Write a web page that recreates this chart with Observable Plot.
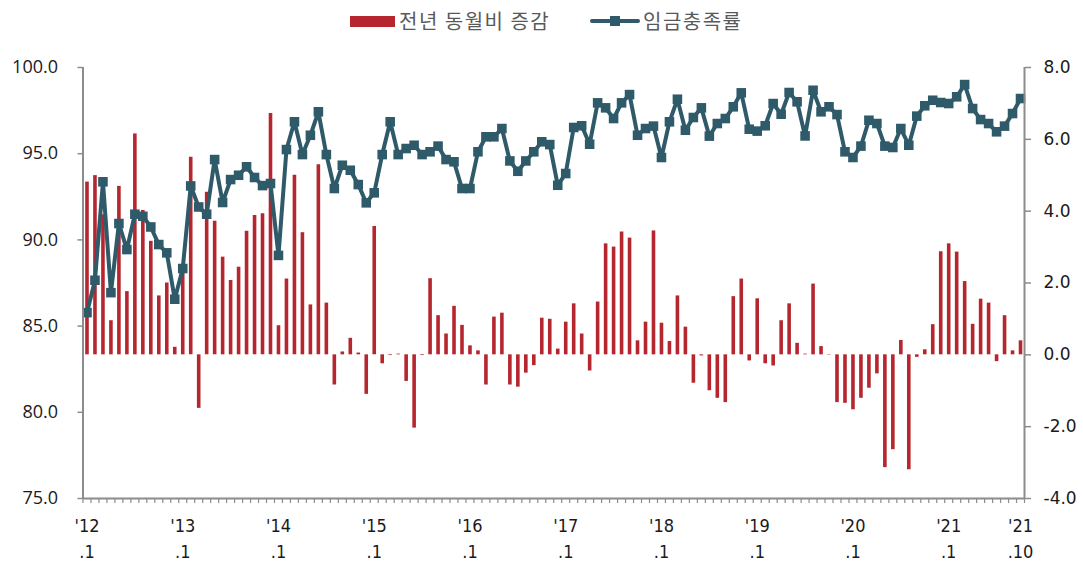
<!DOCTYPE html>
<html>
<head>
<meta charset="utf-8">
<script src="https://cdn.jsdelivr.net/npm/d3@7"></script>
<script src="https://cdn.jsdelivr.net/npm/@observablehq/plot@0.6"></script>
<style>
  html, body { margin: 0; padding: 0; background: #fff; }
  #wrap { width: 1083px; height: 562px; position: relative; overflow: hidden; }
  #legend { position: relative; width: 1083px; height: 40px; font-family: "Noto Sans CJK KR", "Noto Sans", sans-serif; font-size: 20px; color: #595959; letter-spacing: 1.5px; }
  #legend .sw { position: absolute; }
  #legend .lbl { position: absolute; top: 7px; line-height: 28px; white-space: nowrap; }
  #chart svg { display: block; }
</style>
</head>
<body>
<div id="wrap">
  <div id="legend">
    <div class="sw" style="left:350px; top:16px; width:45px; height:11px; background:#B5262E;"></div>
    <div class="lbl" style="left:399px;">전년 동월비 증감</div>
    <div class="sw" style="left:590px; top:19px; width:50px; height:4px; border-radius:2px; background:#2E5A6A;"></div>
    <div class="sw" style="left:610px; top:16px; width:10px; height:10px; background:#2E5A6A;"></div>
    <div class="lbl" style="left:643px;">임금충족률</div>
  </div>
  <div id="chart"></div>
</div>
<script>
// Monthly series, 2012.1 – 2021.10
const startYear = 2012;
const nMonths = 118;

// 전년 동월비 증감 (right axis, %p)
const yoyChange = [
  4.81, 4.99, 3.90, 0.95, 4.69, 1.76, 6.15, 4.02, 3.16, 1.64, 2.00, 0.21,
  2.40, 5.50, -1.49, 4.53, 3.72, 2.72, 2.07, 2.44, 3.44, 3.88, 3.93, 6.72,
  0.81, 2.11, 5.00, 3.40, 1.39, 5.29, 1.44, -0.84, 0.08, 0.46, 0.05, -1.10,
  3.57, -0.25, -0.02, 0.02, -0.74, -2.04, -0.02, 2.12, 1.09, 0.58, 1.35, 0.82,
  0.25, 0.11, -0.84, 1.05, 1.16, -0.84, -0.90, -0.51, -0.30, 1.02, 0.99, 0.16,
  0.91, 1.42, 0.58, -0.45, 1.47, 3.09, 3.00, 3.42, 3.25, 0.39, 0.91, 3.45,
  0.88, 0.37, 1.64, 0.77, -0.79, -0.03, -1.00, -1.21, -1.33, 1.62, 2.11, -0.17,
  1.56, -0.25, -0.31, 0.95, 1.42, 0.32, 0.02, 1.97, 0.23, -0.01, -1.33, -1.35,
  -1.53, -1.21, -0.93, -0.53, -3.14, -2.64, 0.40, -3.20, -0.07, 0.14, 0.84, 2.87,
  3.09, 2.86, 2.04, 0.85, 1.55, 1.44, -0.19, 1.09, 0.11, 0.39
];

// 임금충족률 (left axis)
const wageRate = [
  85.78, 87.66, 93.37, 86.94, 90.95, 89.44, 91.49, 91.37, 90.75, 89.73, 89.25, 86.56,
  88.34, 93.13, 91.91, 91.49, 94.66, 92.17, 93.50, 93.75, 94.24, 93.62, 93.15, 93.27,
  89.10, 95.24, 96.85, 94.95, 96.07, 97.43, 94.95, 92.98, 94.33, 94.04, 93.21, 92.15,
  92.73, 94.95, 96.85, 94.95, 95.30, 95.49, 94.95, 95.11, 95.44, 94.66, 94.53, 92.98,
  92.98, 95.11, 95.98, 95.98, 96.46, 94.58, 93.98, 94.58, 95.11, 95.69, 95.53, 93.17,
  93.85, 96.52, 96.62, 95.55, 97.95, 97.66, 97.04, 97.95, 98.43, 96.07, 96.46, 96.60,
  94.78, 96.85, 98.16, 96.36, 97.10, 97.66, 96.02, 96.75, 97.04, 97.72, 98.53, 96.42,
  96.31, 96.62, 97.91, 97.29, 98.55, 98.01, 96.03, 98.68, 97.43, 97.72, 97.27, 95.11,
  94.78, 95.44, 96.94, 96.75, 95.44, 95.36, 96.46, 95.49, 97.18, 97.78, 98.10, 97.97,
  97.91, 98.30, 99.01, 97.62, 96.98, 96.75, 96.27, 96.60, 97.33, 98.20
];

const leftTicks = [75, 80, 85, 90, 95, 100];
const rightTicks = [-4, -2, 0, 2, 4, 6, 8];
const xLabelIdx = [0, 12, 24, 36, 48, 60, 72, 84, 96, 108, 117];
const xLabelText = ["'12\n.1", "'13\n.1", "'14\n.1", "'15\n.1", "'16\n.1", "'17\n.1", "'18\n.1", "'19\n.1", "'20\n.1", "'21\n.1", "'21\n.10"];

// months as categories
const months = d3.range(nMonths).map(i => `${startYear + Math.floor(i / 12)}.${(i % 12) + 1}`);
const data = months.map((m, i) => ({i, month: m, bar: yoyChange[i], rate: wageRate[i]}));

// right axis (-4..8) mapped onto left axis (75..100)
const toLeft = b => 75 + (b + 4) * 25 / 12;

const gray = "#8c8c8c";
const barColor = "#B5262E";
const lineColor = "#2E5A6A";

const chart = Plot.plot({
  width: 1083,
  height: 522,
  marginTop: 27,
  marginBottom: 64,
  marginLeft: 82.5,
  marginRight: 59,
  style: {fontFamily: "'Open Sans', sans-serif", background: "#fff", overflow: "visible"},
  x: {type: "linear", domain: [-0.5, nMonths - 0.5], axis: null},
  y: {domain: [75, 100], axis: null},
  marks: [
    Plot.ruleX(data, {x: "i", y1: toLeft(0), y2: d => toLeft(d.bar), stroke: barColor, strokeWidth: 3.6}),
    Plot.line(data, {x: "i", y: "rate", stroke: lineColor, strokeWidth: 4, strokeLinejoin: "miter"}),
    Plot.dot(data, {x: "i", y: "rate", symbol: "square", r: 5.4, fill: lineColor, stroke: null}),
    // axis lines
    Plot.ruleX([-0.5], {stroke: gray, strokeWidth: 2}),
    Plot.ruleX([nMonths - 0.5], {stroke: gray, strokeWidth: 2}),
    Plot.ruleY([75], {stroke: gray, strokeWidth: 2}),
    // left axis
    Plot.axisY({anchor: "left", label: null, ticks: leftTicks, tickFormat: d => d.toFixed(1), tickSize: 5, tickPadding: 20,
      stroke: gray, strokeWidth: 1.5, fontSize: 18, fill: "#1a1a1a", fontFamily: "'Open Sans', sans-serif"}),
    // right axis
    Plot.axisY({anchor: "right", label: null, ticks: rightTicks.map(toLeft),
      tickFormat: v => rightTicks.find(t => Math.abs(toLeft(t) - v) < 1e-6).toFixed(1),
      tickSize: 6, tickPadding: 13, stroke: gray, strokeWidth: 1.5, fontSize: 17, fill: "#1a1a1a",
      fontFamily: "'DejaVu Sans', sans-serif"}),
    // monthly minor ticks
    Plot.axisX({label: null, ticks: d3.range(-0.5, nMonths, 1), tickSize: 5, tickFormat: () => "", stroke: gray, strokeWidth: 1.2}),
    // year labels
    Plot.text(xLabelIdx, {x: d => d, text: (d, k) => xLabelText[k], frameAnchor: "bottom", lineAnchor: "top",
      dy: 15, lineHeight: 1.45, fontSize: 18, fill: "#1a1a1a",
      fontFamily: "'Liberation Sans Narrow', 'DejaVu Sans Condensed', sans-serif"})
  ]
});
document.getElementById("chart").appendChild(chart);
</script>
</body>
</html>
